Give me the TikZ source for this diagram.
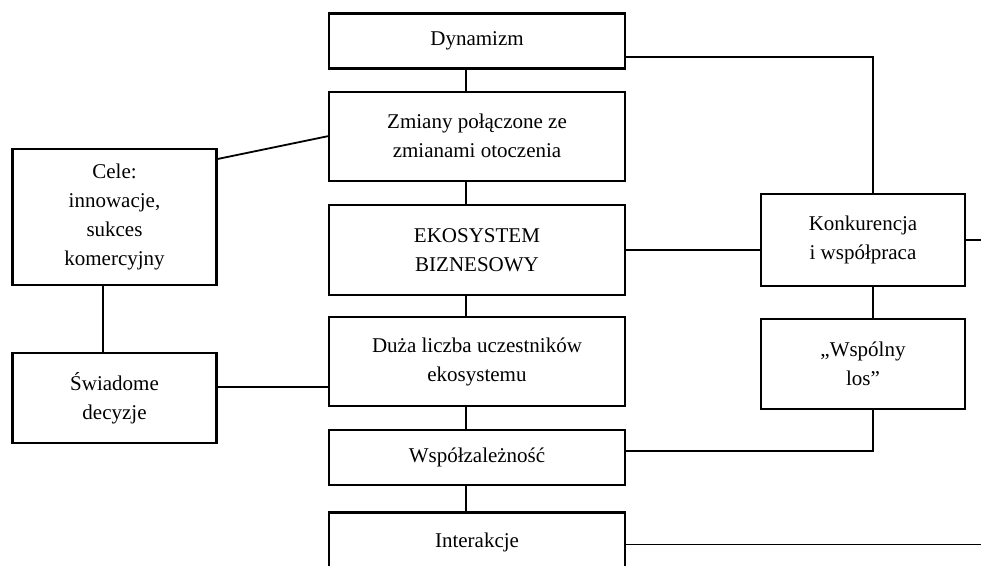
\documentclass[tikz,border=0pt]{standalone}
\usepackage{fontspec}
\setmainfont{Liberation Serif}
\usetikzlibrary{positioning}

\begin{document}
\begin{tikzpicture}[
  x=0.5pt, y=-0.5pt,
  font=\fontsize{10.5}{14.5}\selectfont,
  blok/.style={draw, rectangle, align=center, line width=1.1pt,
    minimum width=148pt, inner sep=2pt},
  boczny/.style={draw, rectangle, align=center, line width=1.1pt,
    minimum width=102pt, inner sep=2pt},
  linia/.style={line width=0.9pt}]
\useasboundingbox (0,0) rectangle (981,566);
% Kolumna srodkowa
\node[blok, minimum height=27.5pt] (dyn) at (477,41) {Dynamizm};
\node[blok, minimum height=44.5pt, below=10.5pt of dyn] (zmi)
  {Zmiany połączone ze\\zmianami otoczenia};
\node[blok, minimum height=45pt, below=11pt of zmi] (eko)
  {EKOSYSTEM\\BIZNESOWY};
\node[blok, minimum height=44.5pt, below=10pt of eko] (duza)
  {Duża liczba uczestników\\ekosystemu};
\node[blok, minimum height=27.5pt, below=11pt of duza] (wsz) {Współzależność};
\node[blok, minimum height=36pt, text depth=8pt, below=12.5pt of wsz] (inter)
  {Interakcje};
% Bloki boczne
\node[boczny, minimum height=68pt] (cele) at (114.5,217)
  {Cele:\\innowacje,\\sukces\\komercyjny};
\node[boczny, minimum height=45pt] (swiad) at (114.5,398)
  {Świadome\\decyzje};
\node[boczny, minimum height=46pt] (konk) at (863,240)
  {Konkurencja\\i współpraca};
\node[boczny, minimum height=45pt] (los) at (863,364)
  {„Wspólny\\los”};
\coordinate (kraniec) at (981,0);
% Polaczenia kolumny srodkowej
\draw[linia] ([xshift=-5.5pt]dyn.south) -- ([xshift=-5.5pt]zmi.north);
\draw[linia] ([xshift=-5.5pt]zmi.south) -- ([xshift=-5.5pt]eko.north);
\draw[linia] ([xshift=-5.5pt]eko.south) -- ([xshift=-5.5pt]duza.north);
\draw[linia] ([xshift=-5.5pt]duza.south) -- ([xshift=-5.5pt]wsz.north);
\draw[linia] ([xshift=-5.5pt]wsz.south) -- ([xshift=-5.5pt]inter.north);
% Strona lewa
\draw[linia] ([yshift=29pt]cele.east) -- (zmi.west);
\draw[linia] ([xshift=-5.75pt]cele.south) -- ([xshift=-5.75pt]swiad.north);
\draw[linia] ([yshift=5.5pt]swiad.east) -- ([yshift=5.5pt]swiad.east -| duza.west);
% Strona prawa
\draw[linia] ([yshift=-8pt]dyn.east) -| ([xshift=5pt]konk.north);
\draw[linia] (eko.east) -- (eko.east -| konk.west);
\draw[linia] (konk.east) -- (konk.east -| kraniec);
\draw[linia] ([xshift=5pt]konk.south) -- ([xshift=5pt]los.north);
\draw[linia] ([xshift=5pt]los.south) |- ([yshift=3.5pt]wsz.east);
\draw[linia] ([yshift=2pt]inter.east) -- ([yshift=2pt]inter.east -| kraniec);
\end{tikzpicture}
\end{document}
